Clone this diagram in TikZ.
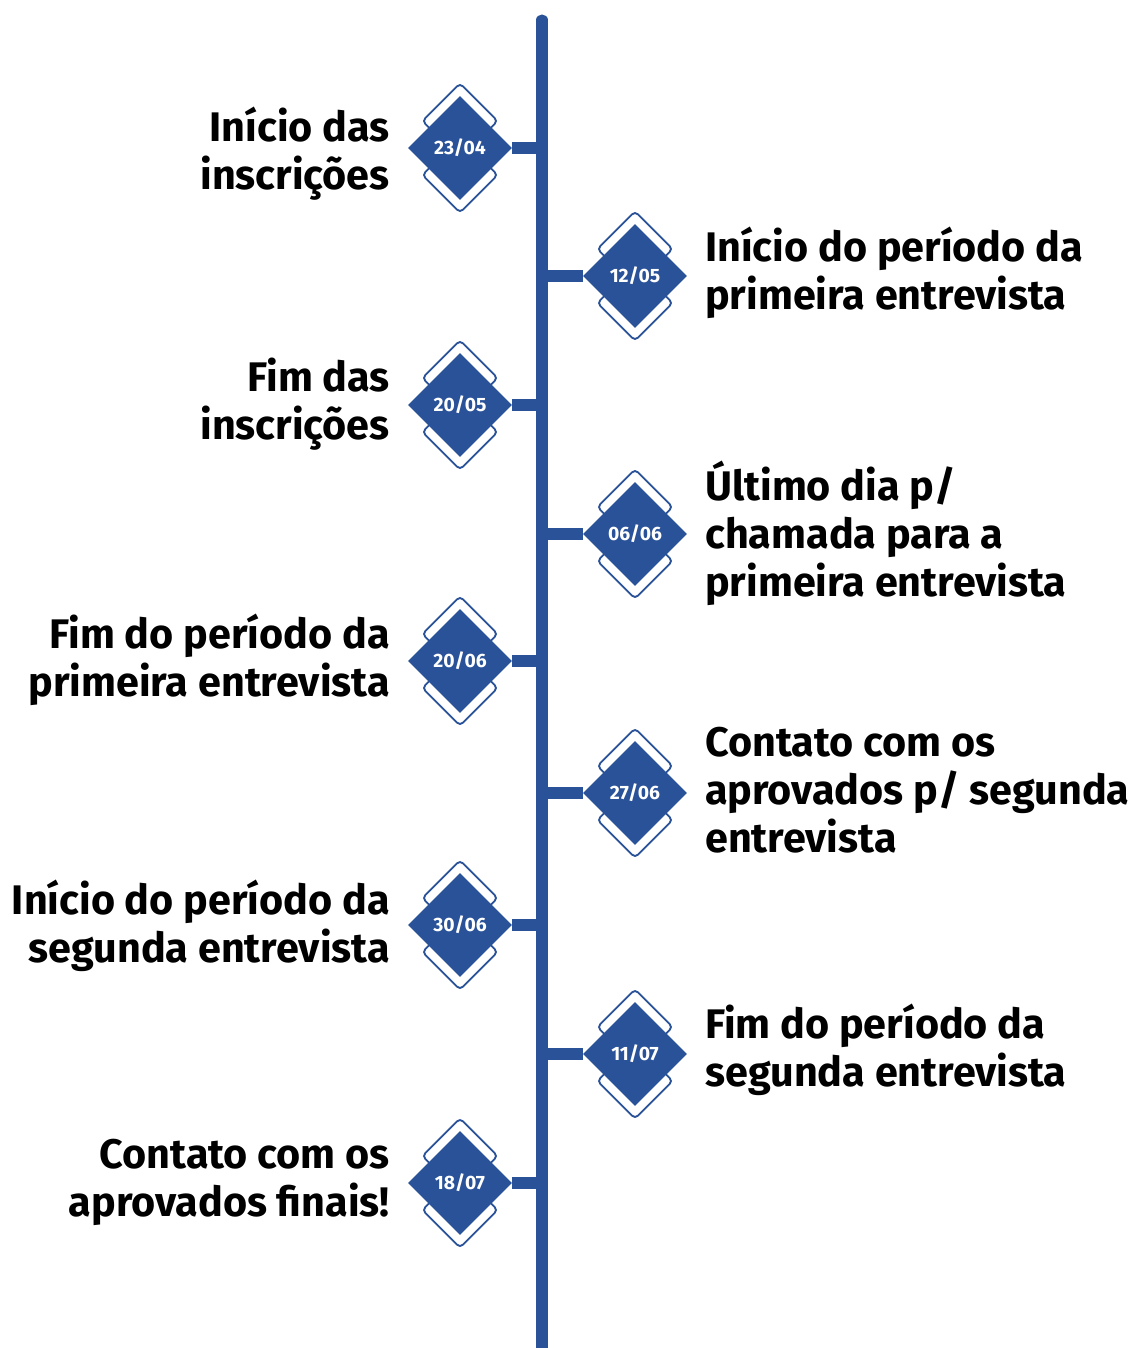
\documentclass[tikz,border=0pt]{standalone}
\usepackage{fontspec}
\setmainfont{Fira Sans}
\usetikzlibrary{shapes.geometric}
\definecolor{tlblue}{RGB}{42,82,152}

\begin{document}
\begin{tikzpicture}[
    x=0.75pt, y=-0.75pt,
    axis/.style={draw=tlblue, line width=8.3pt, line cap=round},
    bar/.style={draw=tlblue, line width=8.5pt},
    datebox/.style={diamond, aspect=1, fill=tlblue, minimum size=78pt, inner sep=0pt, text=white, font=\bfseries\fontsize{14.5}{14.5}\selectfont},
    ghost/.style={diamond, aspect=1, draw=tlblue, fill=white, line width=1.4pt, rounded corners=3pt, minimum size=57pt, inner sep=0pt},
    lefttext/.style={anchor=east, align=right, inner sep=0pt, font=\bfseries\fontsize{31}{36}\selectfont},
    righttext/.style={anchor=west, align=left, inner sep=0pt, font=\bfseries\fontsize{31}{36}\selectfont}
]
    \useasboundingbox (0,0) rectangle (1140,1348);

    % main line
    \coordinate (top) at (542,20);
    \coordinate (bottom) at (542,1360);
    \draw[axis] (top) -- (bottom);

    % 23/04
    \node[ghost] (g1a) at (460,121) {};
    \node[ghost] (g1b) at (460,175) {};
    \node[datebox] (d1) at (460,148) {23/04};
    \node[lefttext] (t1) at (390,154) {Início das\\inscrições};
    \draw[bar] (d1.east) -- (d1.east -| top);

    % 12/05
    \node[ghost] (g2a) at (635,249) {};
    \node[ghost] (g2b) at (635,303) {};
    \node[datebox] (d2) at (635,276) {12/05};
    \node[righttext] (t2) at (705,273) {Início do período da\\primeira entrevista};
    \draw[bar] (d2.west) -- (d2.west -| top);

    % 20/05
    \node[ghost] (g3a) at (460,378) {};
    \node[ghost] (g3b) at (460,432) {};
    \node[datebox] (d3) at (460,405) {20/05};
    \node[lefttext] (t3) at (390,404) {Fim das\\inscrições};
    \draw[bar] (d3.east) -- (d3.east -| top);

    % 06/06
    \node[ghost] (g4a) at (635,507) {};
    \node[ghost] (g4b) at (635,561) {};
    \node[datebox] (d4) at (635,534) {06/06};
    \node[righttext] (t4) at (705,533) {Último dia p/\\chamada para a\\primeira entrevista};
    \draw[bar] (d4.west) -- (d4.west -| top);

    % 20/06
    \node[ghost] (g5a) at (460,634) {};
    \node[ghost] (g5b) at (460,688) {};
    \node[datebox] (d5) at (460,661) {20/06};
    \node[lefttext] (t5) at (390,660) {Fim do período da\\primeira entrevista};
    \draw[bar] (d5.east) -- (d5.east -| top);

    % 27/06
    \node[ghost] (g6a) at (635,766) {};
    \node[ghost] (g6b) at (635,820) {};
    \node[datebox] (d6) at (635,793) {27/06};
    \node[righttext] (t6) at (705,790) {Contato com os\\aprovados p/ segunda\\entrevista};
    \draw[bar] (d6.west) -- (d6.west -| top);

    % 30/06
    \node[ghost] (g7a) at (460,898) {};
    \node[ghost] (g7b) at (460,952) {};
    \node[datebox] (d7) at (460,925) {30/06};
    \node[lefttext] (t7) at (390,926) {Início do período da\\segunda entrevista};
    \draw[bar] (d7.east) -- (d7.east -| top);

    % 11/07
    \node[ghost] (g8a) at (635,1027) {};
    \node[ghost] (g8b) at (635,1081) {};
    \node[datebox] (d8) at (635,1054) {11/07};
    \node[righttext] (t8) at (705,1050) {Fim do período da\\segunda entrevista};
    \draw[bar] (d8.west) -- (d8.west -| top);

    % 18/07
    \node[ghost] (g9a) at (460,1156) {};
    \node[ghost] (g9b) at (460,1210) {};
    \node[datebox] (d9) at (460,1183) {18/07};
    \node[lefttext] (t9) at (390,1182) {Contato com os\\aprovados finais!};
    \draw[bar] (d9.east) -- (d9.east -| top);
\end{tikzpicture}
\end{document}
